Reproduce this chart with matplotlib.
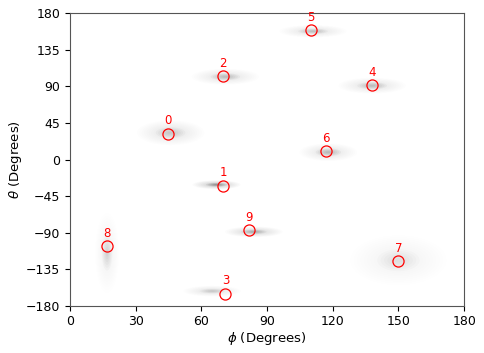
import numpy as np
import matplotlib.pyplot as plt
from matplotlib.patches import Ellipse

# cluster centres (red circles)
labels = ['0', '1', '2', '3', '4', '5', '6', '7', '8', '9']
phi = [45, 70, 70, 71, 138, 110, 117, 150, 17, 82]
theta = [32, -32, 103, -165, 92, 159, 10, -125, -107, -87]

# gray point clouds around each centre: centre, extent (deg), darkness
cloud_phi = [46, 67, 71, 65, 138, 111, 118, 150, 17, 84]
cloud_theta = [33, -31, 102, -162, 91, 158, 9, -124, -115, -89]
cloud_w = [14, 10, 14, 12, 14, 14, 12, 20, 5, 12]
cloud_h = [14, 5, 9, 6, 9, 7, 10, 28, 45, 6]
cloud_dark = [0.4, 1.0, 0.55, 0.45, 0.55, 0.55, 0.6, 0.25, 0.35, 0.75]

fig = plt.figure(figsize=(4.85, 3.53), dpi=100)
ax = fig.add_axes([0.144, 0.134, 0.813, 0.828])

# soft blobs: stacked translucent ellipses, wide faint halo + dense core
for x, y, w, h, d in zip(cloud_phi, cloud_theta, cloud_w, cloud_h, cloud_dark):
    for s in np.linspace(2.2, 0.2, 14):
        a = d * (0.015 if s > 1 else 0.065)
        ax.add_patch(Ellipse((x, y), w * s, h * s, facecolor='k',
                             edgecolor='none', alpha=a, zorder=1))

ax.plot(phi, theta, 'o', markerfacecolor='none', markeredgecolor='red',
        markersize=8, markeredgewidth=0.9, zorder=3)
for lab, x, y in zip(labels, phi, theta):
    ax.annotate(lab, (x, y), xytext=(0, 4.5), textcoords='offset points',
                ha='center', va='bottom', color='red', fontsize=8.5, zorder=4)

ax.set_xlim(0, 180)
ax.set_ylim(-180, 180)
ax.set_xticks(np.arange(0, 181, 30))
ax.set_yticks(np.arange(-180, 181, 45))
ax.tick_params(labelsize=9)
ax.set_xlabel(r'$\phi$ (Degrees)', fontsize=9.5, labelpad=1)
ax.set_ylabel(r'$\theta$ (Degrees)', fontsize=9.5, labelpad=1)
for sp in ax.spines.values():
    sp.set_color('#555555')

plt.savefig('out.png', dpi=100)
